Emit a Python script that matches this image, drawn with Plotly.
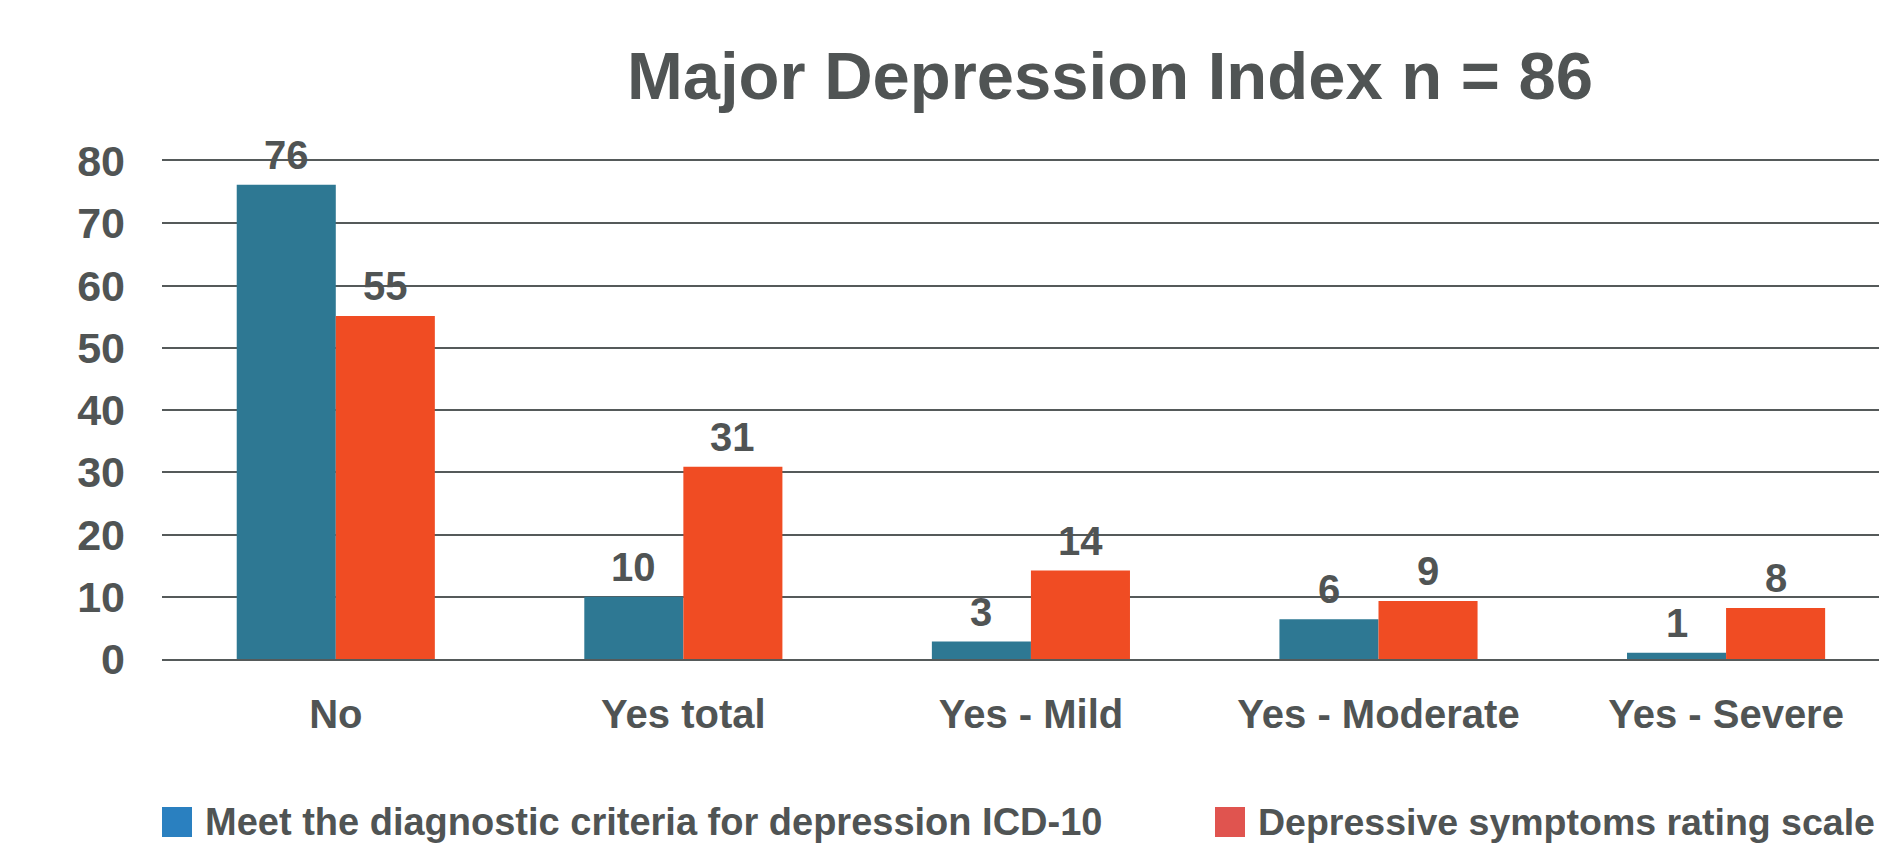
import plotly.graph_objects as go

categories = ["No", "Yes total", "Yes - Mild", "Yes - Moderate", "Yes - Severe"]
icd10_values = [76.2, 10.0, 2.8, 6.4, 1.0]
scale_values = [55.1, 30.9, 14.2, 9.3, 8.2]
icd10_labels = [str(round(v)) for v in icd10_values]
scale_labels = [str(round(v)) for v in scale_values]
series_names = ["Meet the diagnostic criteria for depression ICD-10",
                "Depressive symptoms rating scale"]
y_ticks = [0, 10, 20, 30, 40, 50, 60, 70, 80]

W, H = 1879, 844
L, R, T, B = 162, 0, 161, 185
TXT = "#505454"
FONT = "Liberation Sans, Arial, sans-serif"
BAR_BLUE, BAR_ORANGE = "#2E7893", "#F04C23"
LEG_BLUE, LEG_RED = "#2A80C0", "#E0544F"
GRID = "#555A5A"

fig = go.Figure()
series = [(icd10_values, icd10_labels, BAR_BLUE, series_names[0], -49.5),
          (scale_values, scale_labels, BAR_ORANGE, series_names[1], 49.5)]
for vals, labels, col, name, shift in series:
    fig.add_trace(go.Bar(x=categories, y=vals, name=name, marker_color=col,
                         marker_line_width=0, showlegend=False))
    for c, v, t in zip(categories, vals, labels):
        fig.add_annotation(x=c, y=v, xref="x", yref="y", text=t, showarrow=False,
                           xanchor="center", yanchor="bottom", xshift=shift, yshift=6,
                           font=dict(size=40, color=TXT, family=FONT, weight="bold"))

pw, ph = W - L - R, H - T - B
def px_x(px):
    return (px - L) / pw
def px_y(py):
    return (H - B - py) / ph

# legend drawn manually (large square swatches, colours differ from bars)
legend_items = [(162, LEG_BLUE, series_names[0], 38), (1215, LEG_RED, series_names[1], 37.5)]
for x0, col, name, fs in legend_items:
    fig.add_shape(type="rect", xref="paper", yref="paper",
                  x0=px_x(x0), x1=px_x(x0 + 30), y0=px_y(837), y1=px_y(807),
                  fillcolor=col, line_width=0)
    fig.add_annotation(xref="paper", yref="paper", x=px_x(x0 + 41), y=px_y(822),
                       xanchor="left", yanchor="middle", text=name, showarrow=False,
                       font=dict(size=fs, color=TXT, family=FONT, weight="bold"))

fig.update_layout(
    width=W, height=H, autosize=False,
    margin=dict(l=L, r=R, t=T, b=B, pad=0),
    paper_bgcolor="white", plot_bgcolor="white",
    barmode="group", bargap=0.43, bargroupgap=0,
    title=dict(text="Major Depression Index n = 86", x=1110 / W, xanchor="center",
               y=1 - 76 / H, yanchor="middle", yref="container",
               font=dict(size=67, color=TXT, family=FONT, weight="bold")),
    font=dict(family=FONT, color=TXT),
)
fig.update_xaxes(range=[-0.5, 4.44], showgrid=False, zeroline=False,
                 showline=True, mirror=True, linecolor=GRID, linewidth=2,
                 ticks="", tickfont=dict(size=40, color=TXT, family=FONT, weight="bold"),
                 ticklabelstandoff=19)
fig.update_yaxes(range=[0, 80], tickvals=y_ticks, showgrid=True, gridcolor=GRID,
                 gridwidth=2, zeroline=False, showline=False, ticks="",
                 tickfont=dict(size=43, color=TXT, family=FONT, weight="bold"),
                 ticklabelstandoff=36)

fig.write_html("out.html", config={"displayModeBar": False},
               post_script="document.body.style.margin='0';document.body.style.overflow='hidden';")
